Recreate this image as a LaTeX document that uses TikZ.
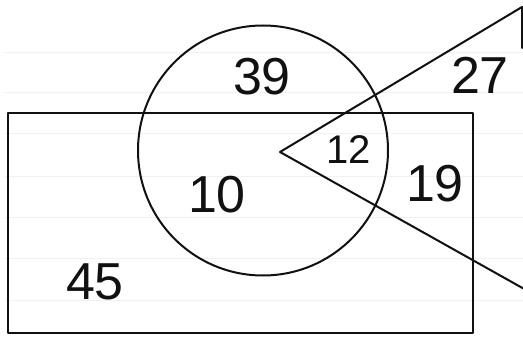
\documentclass[tikz,border=0pt]{standalone}
\usepackage{fontspec}
\setmainfont{Liberation Sans}
\usetikzlibrary{positioning}
\definecolor{inkline}{HTML}{111111}
\definecolor{paperrule}{HTML}{F1F1F1}

\begin{document}
\begin{tikzpicture}[x=1pt,y=-1pt,
 ink/.style={draw=inkline,line width=2pt,line join=round,line cap=round},
 ruled/.style={draw=paperrule,line width=0.8pt},
 num/.style={inner sep=0pt,text=inkline,font=\fontsize{52}{52}\selectfont}]
\useasboundingbox (0,0) rectangle (523,337);
\foreach \y in {52,92,133,176,217,258,300}{
\draw[ruled] (5,\y)--(523,\y);}
\node[ink,rectangle,minimum width=465pt,minimum height=220pt,inner sep=0pt] (frame) at (240.5,223) {};
\node[ink,circle,minimum size=250pt,inner sep=0pt] (ring) at (263,150.5) {};
\coordinate (apex) at (280,152);
\coordinate (topc) at (522,7);
\coordinate (edge) at (522,48);
\coordinate (lowc) at (526,290);
\draw[ink] (edge)--(topc)--(apex)--(lowc);
\foreach \x/\y/\id/\val in {262/77/n39/39,480/75/n27/27,435/184/n19/19,217/195/n10/10,95/282/n45/45}{
\node[num] (\id) at (\x,\y) {\val};}
\node[num,font=\fontsize{40}{40}\selectfont] (n12) at (349,150) {12};
\end{tikzpicture}
\end{document}
